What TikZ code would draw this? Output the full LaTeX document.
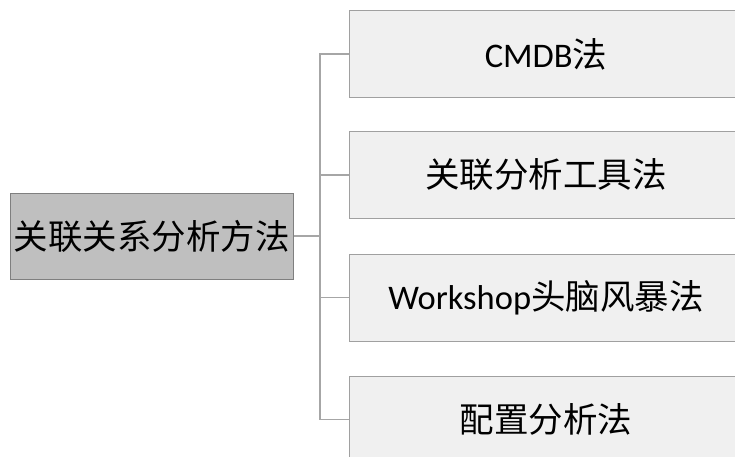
\documentclass[tikz,border=0pt]{standalone}
\usepackage{fontspec}
\setmainfont{Carlito}
\newfontfamily\cjk{Noto Sans CJK SC}
\definecolor{rootfill}{HTML}{BFBFBF}
\definecolor{rootline}{HTML}{7F7F7F}
\definecolor{leaffill}{HTML}{F0F0F0}
\definecolor{leafline}{HTML}{A0A0A0}
\definecolor{linkcol}{HTML}{A6A6A6}
\begin{document}
\begin{tikzpicture}[x=1pt,y=-1pt,
  rootbox/.style={draw=rootline,fill=rootfill,line width=1pt,minimum width=283pt,minimum height=86pt,inner sep=0pt,font=\fontsize{34.5}{38}\selectfont},
  leafbox/.style={draw=leafline,fill=leaffill,line width=1pt,minimum width=394pt,minimum height=87pt,inner sep=0pt,font=\fontsize{34.5}{38}\selectfont},
  link/.style={draw=linkcol,line width=1.2pt}]
\useasboundingbox (0,0) rectangle (735,457);
\node[rootbox] (root) at (151.5,236) {\cjk 关联关系分析方法};
\node[leafbox] (a) at (546,54) {CMDB{\cjk 法}};
\node[leafbox] (b) at (546,175) {\cjk 关联分析工具法};
\node[leafbox] (c) at (546,297.5) {Workshop{\cjk 头脑风暴法}};
\node[leafbox] (d) at (546,419.5) {\cjk 配置分析法};
\coordinate (j) at (320,236);
\draw[link] (root.east) -- (j);
\draw[link] (a.west) -| (j);
\draw[link] (b.west) -| (j);
\draw[link] (c.west) -| (j);
\draw[link] (d.west) -| (j);
\end{tikzpicture}
\end{document}
